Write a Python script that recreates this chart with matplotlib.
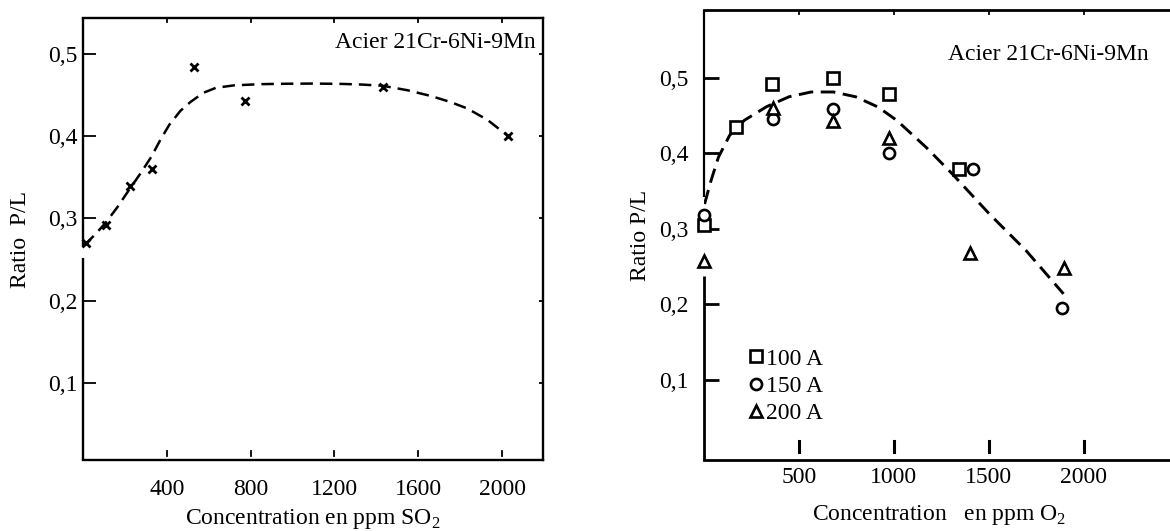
import matplotlib
matplotlib.use("Agg")
import matplotlib.pyplot as plt

plt.rcParams['font.family'] = ['Liberation Serif', 'DejaVu Serif']
plt.rcParams['mathtext.fontset'] = 'custom'
plt.rcParams['mathtext.rm'] = 'Liberation Serif'

# ---------------- data: left panel (SO2) ----------------
so2_x = [15, 110, 225, 330, 530, 775, 1430, 2030]
so2_y = [0.270, 0.292, 0.340, 0.360, 0.484, 0.443, 0.460, 0.400]
so2_fit_x = [9, 60, 109, 165, 223, 275, 326, 370, 412, 465, 514, 575, 634, 720, 850, 977, 1100, 1233, 1330, 1430, 1550, 1661, 1750, 1833, 1930, 2035]
so2_fit_y = [0.268, 0.281, 0.295, 0.314, 0.336, 0.355, 0.375, 0.396, 0.414, 0.431, 0.442, 0.453, 0.459, 0.462, 0.4635, 0.464, 0.4642, 0.4638, 0.463, 0.4615, 0.456, 0.449, 0.442, 0.434, 0.420, 0.399]

# ---------------- data: right panel (O2) ----------------
sq_x = [0, 170, 360, 680, 975, 1345]
sq_y = [0.305, 0.435, 0.492, 0.500, 0.479, 0.380]
ci_x = [0, 365, 680, 975, 1415, 1885]
ci_y = [0.318, 0.445, 0.459, 0.400, 0.380, 0.195]
tr_x = [0, 365, 680, 975, 1400, 1893]
tr_y = [0.258, 0.460, 0.443, 0.420, 0.268, 0.248]
o2_fit_x = [3, 37, 76, 135, 213, 330, 447, 564, 682, 799, 916, 1014, 1170, 1307, 1502, 1697, 1893]
o2_fit_y = [0.333, 0.364, 0.395, 0.424, 0.444, 0.462, 0.475, 0.4814, 0.4814, 0.475, 0.4615, 0.444, 0.408, 0.373, 0.320, 0.271, 0.214]

labels = ['100 A', '150 A', '200 A']
y_ticks = [0.1, 0.2, 0.3, 0.4, 0.5]
y_ticklabels = ['0,1', '0,2', '0,3', '0,4', '0,5']
so2_xticks = [400, 800, 1200, 1600, 2000]
o2_xticks = [500, 1000, 1500, 2000]

title_txt = 'Acier 21Cr-6Ni-9Mn'

FS = 17
LW = 1.7

fig = plt.figure(figsize=(11.7, 5.31), dpi=100)

# ======================= left panel ============================
ax1 = fig.add_axes([0.0709, 0.1337, 0.3932, 0.8324])
ax1.set_xlim(0, 2195)
ax1.set_ylim(0.006, 0.544)
for s in ax1.spines.values():
    s.set_linewidth(LW)
ax1.spines['left'].set_visible(False)
# left spine with a small break below the first point
ax1.plot([0, 0], [0.006, 0.252], transform=ax1.get_yaxis_transform(), color='k', lw=LW, clip_on=False, solid_capstyle='butt')
ax1.plot([0, 0], [0.266, 0.544], transform=ax1.get_yaxis_transform(), color='k', lw=LW, clip_on=False, solid_capstyle='butt')

ax1.plot(so2_fit_x, so2_fit_y, color='k', lw=1.8, dashes=(5, 2.8))
ax1.plot(so2_x, so2_y, linestyle='none', marker='x', color='k', markersize=6, mew=2, clip_on=False)

ax1.set_yticks(y_ticks)
ax1.set_yticklabels(y_ticklabels)
ax1.set_xticks(so2_xticks)
ax1.set_xticklabels([str(v) for v in so2_xticks])
ax1.tick_params(axis='y', direction='in', length=9, width=1.3, pad=4, labelsize=FS, right=True)
ax1.tick_params(axis='x', direction='in', length=0, width=1.3, pad=14, labelsize=FS, top=True)
for t in ax1.yaxis.get_ticklines()[1::2]:
    t.set_markersize(3)
# short floating ticks above bottom spine and below top spine
for v in so2_xticks:
    ax1.plot([v, v], [0.008, 0.02], transform=ax1.get_xaxis_transform(), color='k', lw=1.3)
    ax1.plot([v, v], [0.990, 1.0], transform=ax1.get_xaxis_transform(), color='k', lw=1.3)

ax1.set_xlabel('Concentration en ppm SO$_2$', fontsize=FS, labelpad=5)
ax1.set_ylabel('Ratio  P/L', fontsize=FS, labelpad=12)
ax1.text(0.985, 0.968, title_txt, transform=ax1.transAxes, ha='right', va='top', fontsize=FS)

# ======================= right panel ============================
ax2 = fig.add_axes([0.6017, 0.1337, 0.4026, 0.8475])
ax2.set_xlim(0, 2480)
ax2.set_ylim(-0.006, 0.59)
for s in ax2.spines.values():
    s.set_linewidth(2.0)
ax2.spines['right'].set_visible(False)
ax2.spines['left'].set_visible(False)
ax2.plot([0, 0], [-0.006, 0.238], transform=ax2.get_yaxis_transform(), color='k', lw=2.0, clip_on=False, solid_capstyle='butt')
ax2.plot([0, 0], [0.342, 0.59], transform=ax2.get_yaxis_transform(), color='k', lw=1.6, clip_on=False, solid_capstyle='butt')

ax2.plot(o2_fit_x, o2_fit_y, color='k', lw=2.1, dashes=(5, 2.6))
ms = 8
ax2.plot(sq_x, sq_y, linestyle='none', marker='s', ms=ms, mfc='white', mec='k', mew=1.9, clip_on=False, label=labels[0])
ax2.plot(ci_x, ci_y, linestyle='none', marker='o', ms=ms, mfc='white', mec='k', mew=1.9, clip_on=False, label=labels[1])
ax2.plot(tr_x, tr_y, linestyle='none', marker='^', ms=ms, mfc='white', mec='k', mew=1.9, clip_on=False, label=labels[2])

ax2.set_yticks(y_ticks)
ax2.set_yticklabels(y_ticklabels)
ax2.set_xticks(o2_xticks)
ax2.set_xticklabels([str(v) for v in o2_xticks])
ax2.tick_params(axis='y', direction='in', length=11, width=2.0, pad=11, labelsize=FS)
ax2.tick_params(axis='x', direction='in', length=0, pad=5, labelsize=FS)
for v in o2_xticks:
    ax2.plot([v, v], [0.018, 0.042], transform=ax2.get_xaxis_transform(), color='k', lw=2.2)
    ax2.plot([v, v], [0.99, 1.0], transform=ax2.get_xaxis_transform(), color='k', lw=1.3)

ax2.set_xlabel('Concentration   en ppm O$_2$', fontsize=FS, labelpad=11)
ax2.set_ylabel('Ratio P/L', fontsize=FS, labelpad=6)
ax2.text(0.945, 0.925, title_txt, transform=ax2.transAxes, ha='right', va='top', fontsize=FS)

leg = ax2.legend(loc='upper left', bbox_to_anchor=(0.07, 0.275), frameon=False, fontsize=FS,
                 handlelength=0.6, handletextpad=0.15, labelspacing=0.25, borderpad=0, numpoints=1)

fig.savefig('out.png', dpi=100)
